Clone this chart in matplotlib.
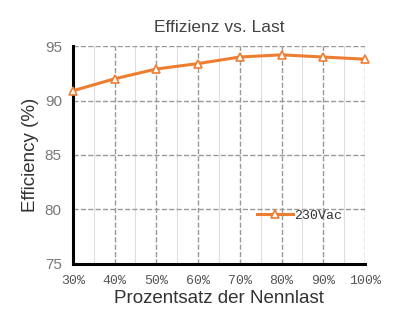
import matplotlib.pyplot as plt
from matplotlib.ticker import MultipleLocator

load = [30, 40, 50, 60, 70, 80, 90, 100]
efficiency = [90.9, 92.0, 92.9, 93.4, 94.0, 94.2, 94.0, 93.8]
x_labels = ['30%', '40%', '50%', '60%', '70%', '80%', '90%', '100%']
series_name = '230Vac'

fig = plt.figure(figsize=(3.96, 3.16), dpi=100)
ax = fig.add_axes([0.184, 0.165, 0.738, 0.689])

ax.plot(load, efficiency, color='#ED7D31', lw=2.2, marker='^', ms=6,
        mfc='white', mec='#ED7D31', mew=1.2, label=series_name, zorder=3, clip_on=False)

ax.set_xlim(30, 100)
ax.set_ylim(75, 95)
ax.set_xticks(load)
ax.set_xticklabels(x_labels, family='Liberation Mono', fontsize=9.5, color='#555555')
ax.set_yticks([75, 80, 85, 90, 95])
ax.set_yticklabels([str(v) for v in [75, 80, 85, 90, 95]], family='Liberation Sans')
ax.xaxis.set_minor_locator(MultipleLocator(5))
ax.grid(which='major', color='#999999', ls='--', lw=1)
ax.grid(which='minor', axis='x', color='#dddddd', ls='-', lw=0.8)
ax.tick_params(which='both', length=0)
ax.tick_params(axis='y', labelsize=11, labelcolor='#777777', pad=8)
ax.tick_params(axis='x', pad=8)

for s in ['top', 'right']:
    ax.spines[s].set_visible(False)
ax.spines['left'].set_linewidth(2.2)
ax.spines['bottom'].set_linewidth(2.2)

ax.set_title('Effizienz vs. Last', fontsize=12.5, color='#444444', pad=10, family='Liberation Sans')
ax.set_xlabel('Prozentsatz der Nennlast', fontsize=13.5, color='#333333', labelpad=2,
              family='Liberation Sans')
ax.set_ylabel('Efficiency (%)', fontsize=13.5, color='#333333', labelpad=4, family='Liberation Sans')

leg = ax.legend(loc='center left', bbox_to_anchor=(0.59, 0.22), frameon=False,
                handlelength=2.7, handletextpad=0.1, prop={'family': 'Liberation Mono', 'size': 9.5})
for t in leg.get_texts():
    t.set_color('#333333')

fig.savefig('out.png', dpi=100)
